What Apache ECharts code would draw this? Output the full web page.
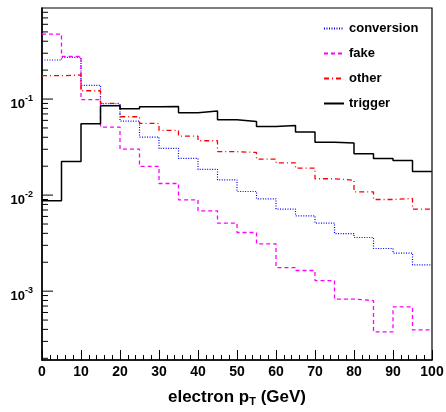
<!DOCTYPE html>
<html>
<head>
<meta charset="utf-8">
<script src="https://cdn.jsdelivr.net/npm/echarts@6/dist/echarts.min.js"></script>
<style>
html, body { margin: 0; padding: 0; background: #fff; }
#chart { width: 446px; height: 412px; }
</style>
</head>
<body>
<div id="chart"></div>
<script>
// histogram bins: 20 bins of 5 GeV
var binWidth = 5;
var binLow = [0, 5, 10, 15, 20, 25, 30, 35, 40, 45, 50, 55, 60, 65, 70, 75, 80, 85, 90, 95];

// normalised fractions per bin
var conversion = [0.255, 0.272, 0.139, 0.0894, 0.059, 0.0402, 0.0306, 0.0241, 0.0185, 0.0144,
                  0.0109, 0.00915, 0.00715, 0.00608, 0.0051, 0.00398, 0.00362, 0.00278, 0.00249, 0.00188];
var fake       = [0.475, 0.278, 0.0984, 0.0511, 0.0301, 0.0199, 0.0132, 0.0089, 0.00686, 0.0051,
                  0.00408, 0.00311, 0.00176, 0.00164, 0.00129, 0.000826, 0.000798, 0.000377, 0.000686, 0.000395];
var other      = [0.175, 0.178, 0.122, 0.090, 0.0654, 0.0557, 0.0471, 0.0412, 0.0368, 0.0283,
                  0.0278, 0.0237, 0.0217, 0.0191, 0.0148, 0.0143, 0.0108, 0.0090, 0.00922, 0.00715];
var trigger    = [0.00873, 0.0224, 0.0553, 0.0851, 0.0792, 0.0832, 0.0835, 0.0720, 0.0750, 0.0608,
                  0.0585, 0.0519, 0.0531, 0.0453, 0.0356, 0.0348, 0.0269, 0.0241, 0.0229, 0.0176];

var seriesNames = ['conversion', 'fake', 'other', 'trigger'];
var yMin = 1.92e-4, yMax = 0.887;

var FONT = '"Liberation Sans", Arial, Helvetica, sans-serif';
var GRID = { left: 42, right: 14, top: 8, bottom: 52 };

// turn bin contents into step points (last bin closed at upper edge)
function steps(vals) {
    var d = binLow.map(function (x, i) { return [x, vals[i]]; });
    d.push([binLow[binLow.length - 1] + binWidth, vals[vals.length - 1]]);
    return d;
}

function histo(name, vals, color, width, dash) {
    return {
        name: name,
        type: 'line',
        step: 'end',
        symbol: 'none',
        silent: true,
        lineStyle: { color: color, width: width, type: dash },
        itemStyle: { color: color },
        data: steps(vals)
    };
}

var chart = echarts.init(document.getElementById('chart'));

var option = {
    animation: false,
    textStyle: { fontFamily: FONT },
    grid: {
        left: GRID.left, right: GRID.right, top: GRID.top, bottom: GRID.bottom,
        containLabel: false,
        outerBoundsMode: 'none',
        show: true, borderColor: '#000', borderWidth: 1.2
    },
    legend: {
        orient: 'vertical',
        left: 318,
        top: 17,
        itemWidth: 20,
        itemHeight: 14,
        itemGap: 12,
        itemStyle: { opacity: 0 },
        textStyle: { fontFamily: FONT, fontSize: 13, fontWeight: 'bold', color: '#000' },
        data: seriesNames
    },
    xAxis: {
        type: 'value',
        min: 0,
        max: 100,
        interval: 10,
        axisLine: { show: true, lineStyle: { color: '#000', width: 1.5 } },
        axisTick: { show: true, inside: true, length: 10, lineStyle: { color: '#000', width: 1 } },
        minorTick: { show: true, splitNumber: 5, length: 5, lineStyle: { color: '#000', width: 1 } },
        splitLine: { show: false },
        axisLabel: { color: '#000', fontSize: 14, fontWeight: 'bold', margin: 5, fontFamily: FONT },
        name: '{n|electron p}{s|T}{n| (GeV)}',
        nameLocation: 'middle',
        nameGap: 27,
        nameTextStyle: {
            rich: {
                n: { fontSize: 17, fontWeight: 'bold', color: '#000', fontFamily: FONT },
                s: { fontSize: 11, fontWeight: 'bold', color: '#000', fontFamily: FONT, padding: [9, 0, 0, 0] }
            }
        }
    },
    yAxis: {
        type: 'log',
        logBase: 10,
        min: yMin,
        max: yMax,
        axisLine: { show: true, lineStyle: { color: '#000', width: 1.5 } },
        axisTick: { show: false },
        splitLine: { show: false },
        axisLabel: {
            margin: 9,
            showMinLabel: false,
            showMaxLabel: false,
            formatter: function (v) {
                var e = Math.log(v) / Math.LN10;
                var r = Math.round(e);
                if (Math.abs(e - r) > 1e-6) return '';
                return '{b|10}{s|' + r + '}';
            },
            rich: {
                b: { fontSize: 13, fontWeight: 'bold', color: '#000', fontFamily: FONT, padding: [10, 0, 0, 0] },
                s: { fontSize: 9, fontWeight: 'bold', color: '#000', fontFamily: FONT, padding: [0, 0, 2, 0] }
            }
        }
    },
    series: [
        histo('conversion', conversion, '#0000ff', 1.2, [1, 1.5]),
        histo('fake', fake, '#ff00ff', 1.3, [4, 3]),
        histo('other', other, '#ff0000', 1.3, [5, 3, 1, 3]),
        histo('trigger', trigger, '#000000', 1.5, 'solid')
    ]
};

chart.setOption(option);

// ROOT style log ticks on the y axis (inward, majors at decades, minors at 2..9)
var tickEls = [];
for (var k = -4; k <= 0; k++) {
    for (var m = 1; m <= 9; m++) {
        var v = m * Math.pow(10, k);
        if (v < yMin || v > yMax) continue;
        var py = chart.convertToPixel({ gridIndex: 0 }, [0, v])[1];
        var len = (m === 1) ? 11 : 6;
        tickEls.push({
            type: 'line',
            silent: true,
            shape: { x1: GRID.left, y1: py, x2: GRID.left + len, y2: py },
            style: { stroke: '#000', lineWidth: 1 }
        });
    }
}
chart.setOption({ graphic: tickEls });
</script>
</body>
</html>
